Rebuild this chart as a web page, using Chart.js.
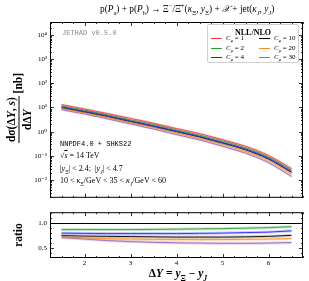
<!DOCTYPE html>
<html><head><meta charset="utf-8">
<script src="https://cdn.jsdelivr.net/npm/chart.js@4.4.1/dist/chart.umd.min.js"></script>
<style>
html,body{margin:0;padding:0;background:#fff;}
#wrap{position:relative;width:309px;height:281px;overflow:hidden;font-family:'Liberation Serif','DejaVu Serif',serif;color:#000;}
canvas{position:absolute;left:0;}
.t{position:absolute;white-space:nowrap;line-height:1;}
sub,sup{font-size:68%;line-height:0;}
.mono{font-family:'Liberation Mono','DejaVu Sans Mono',monospace;}
#legend{position:absolute;left:207px;top:24px;width:92px;height:39px;border:1px solid #d0d0d0;border-radius:2px;background:rgba(255,255,255,0.85);box-sizing:border-box;}
#legend .ln{position:absolute;height:1px;width:11px;}
#legend .lt{position:absolute;font-size:7px;white-space:nowrap;line-height:1;}
</style></head><body>
<div id="wrap">
<canvas id="main" width="309" height="205" style="top:0"></canvas>
<canvas id="ratio" width="309" height="76" style="top:205px"></canvas>

<div class="t" style="left:100px;top:5px;font-size:9.3px;">p(<i>P</i><sub>a</sub>) + p(<i>P</i><sub>b</sub>) → Ξ<sup>−</sup>/Ξ̄<sup>+</sup>(<i>κ</i><sub>Ξ</sub>, <i>y</i><sub>Ξ</sub>) + <i>𝒳</i> + jet(<i>κ</i><sub><i>J</i></sub>, <i>y</i><sub><i>J</i></sub>)</div>

<div class="t mono" style="left:62px;top:30px;font-size:7px;color:#8a8a8a;">JETHAD v0.5.0</div>
<div class="t mono" style="left:60px;top:141px;font-size:7px;">NNPDF4.0 + SHKS22</div>
<div class="t" style="left:60px;top:152px;font-size:8px;">√<span style="text-decoration:overline"><i>s</i></span> = 14 TeV</div>
<div class="t" style="left:60px;top:165px;font-size:8px;">|<i>y</i><sub>Ξ</sub>| &lt; 2.4;&nbsp; |<i>y</i><sub><i>J</i></sub>| &lt; 4.7</div>
<div class="t" style="left:60px;top:177px;font-size:8px;">10 &lt; <i>κ</i><sub>Ξ</sub>/GeV &lt; 35 &lt; <i>κ</i><sub><i>J</i></sub>/GeV &lt; 60</div>

<div id="legend"></div>

<div class="t" style="left:19px;top:108px;transform:translate(-50%,-50%) rotate(-90deg);font-size:11.5px;font-weight:bold;">
 <span style="display:inline-block;vertical-align:middle;text-align:center;">
  <span style="display:block;border-bottom:1px solid #000;padding:0 1px 1px;">dσ(Δ<i>Y</i>, <i>s</i>)</span>
  <span style="display:block;padding-top:2px;">dΔ<i>Y</i></span>
 </span>
 <span style="vertical-align:middle;">[nb]</span>
</div>
<div class="t" style="left:19px;top:235px;transform:translate(-50%,-50%) rotate(-90deg);font-size:11.5px;font-weight:bold;">ratio</div>
<div class="t" style="left:178px;top:274px;transform:translate(-50%,-50%);font-size:11.5px;font-weight:bold;">Δ<i>Y</i> = <i>y</i><sub>Ξ</sub> − <i>y</i><sub><i>J</i></sub></div>
</div>

<script>
// ---------------- data ----------------
const deltaY = [1.5, 2.0, 2.5, 3.0, 3.5, 4.0, 4.5, 5.0, 5.5, 6.0, 6.5];
const scaleNames = ['1', '2', '4', '10', '20', '30'];
const sigmaC1  = [13.2, 8.71, 5.62, 3.55, 2.24, 1.35, 0.832, 0.468, 0.251, 0.105, 0.0302];
const sigmaC2  = [11.7, 7.76, 5.01, 3.09, 2.00, 1.20, 0.724, 0.417, 0.219, 0.0912, 0.0263];
const sigmaC4  = [10.7, 7.08, 4.57, 2.82, 1.78, 1.07, 0.646, 0.363, 0.195, 0.0813, 0.0229];
const sigmaC10 = [10.0, 6.61, 4.27, 2.63, 1.66, 1.00, 0.603, 0.339, 0.178, 0.0741, 0.0209];
const sigmaC20 = [9.12, 6.03, 3.80, 2.34, 1.48, 0.871, 0.525, 0.295, 0.151, 0.0631, 0.0174];
const sigmaC30 = [8.13, 5.37, 3.39, 2.09, 1.29, 0.759, 0.457, 0.251, 0.129, 0.0525, 0.0141];
const ratioC2  = [0.87, 0.87, 0.87, 0.87, 0.875, 0.88, 0.885, 0.89, 0.90, 0.91, 0.93];
const ratioC4  = [0.80, 0.795, 0.79, 0.79, 0.79, 0.79, 0.795, 0.80, 0.81, 0.82, 0.845];
const ratioC10 = [0.75, 0.74, 0.735, 0.73, 0.725, 0.72, 0.72, 0.72, 0.725, 0.735, 0.755];
const ratioC20 = [0.72, 0.705, 0.69, 0.68, 0.675, 0.67, 0.67, 0.67, 0.675, 0.68, 0.69];
const ratioC30 = [0.71, 0.68, 0.65, 0.63, 0.615, 0.605, 0.60, 0.595, 0.595, 0.60, 0.61];
const xTickValues = [2, 3, 4, 5, 6];
const xTickLabels = ['2', '3', '4', '5', '6'];
const yTickValues = [1e-2, 1e-1, 1e0, 1e1, 1e2, 1e3, 1e4];
const yTickLabels = ['10⁻²', '10⁻¹', '10⁰', '10¹', '10²', '10³', '10⁴'];
const rTickValues = [0.5, 1.0];
const rTickLabels = ['0.5', '1.0'];

// ---------------- styles ----------------
const colors = ['#ff2a2a', '#2a9a2a', '#1a1aff', '#000000', '#ff8c1a', '#9467bd'];
const bandColors = ['rgba(255,90,90,0.28)', 'rgba(70,170,70,0.28)', 'rgba(70,70,255,0.28)', 'rgba(0,0,0,0.18)', 'rgba(255,150,40,0.28)', 'rgba(150,100,200,0.28)'];
const FONT = "'Liberation Serif','DejaVu Serif',serif";

const sigmaSeries = [sigmaC1, sigmaC2, sigmaC4, sigmaC10, sigmaC20, sigmaC30];
const ratioSeries = [null, ratioC2, ratioC4, ratioC10, ratioC20, ratioC30];

function pts(arr) { return deltaY.map((x, i) => ({x: x, y: arr[i]})); }
function makeDatasets(series, bw) {
  const bands = [], lines = [];
  series.forEach((s, i) => {
    if (!s) return;
    bands.push({data: pts(s), borderColor: bandColors[i], borderWidth: bw, pointRadius: 0, cubicInterpolationMode: 'monotone', fill: false});
    lines.push({data: pts(s), borderColor: colors[i], borderWidth: 0.9, pointRadius: 0, cubicInterpolationMode: 'monotone', fill: false});
  });
  return bands.concat(lines);
}

// legend
(function(){
  const lg = document.getElementById('legend');
  let h = '<div class="lt" style="left:0;width:100%;text-align:center;top:3.5px;font-size:8px;font-weight:bold;">NLL/NLO</div>';
  const rows = [13.5, 23, 32];
  scaleNames.forEach((n, i) => {
    const col = i < 3 ? 0 : 1, row = i % 3;
    const lx = col ? 51 : 3, tx = col ? 66 : 18;
    h += '<div class="ln" style="left:' + lx + 'px;top:' + (rows[row] - 0.5) + 'px;background:' + colors[i] + '"></div>';
    h += '<div class="lt" style="left:' + tx + 'px;top:' + (rows[row] - 3.5) + 'px;"><i>C</i><sub><i>μ</i></sub> = ' + n + '</div>';
  });
  lg.innerHTML = h;
})();

// frame with inward ticks
function makeFrame(xMajor, xMinor, yMajor, yMinor, refLine) {
  return {
    id: 'frame',
    beforeDatasetsDraw(chart) {
      if (refLine === undefined) return;
      const {ctx, chartArea: a, scales} = chart;
      const p = Math.round(scales.y.getPixelForValue(refLine)) + 0.5;
      ctx.save(); ctx.strokeStyle = '#000'; ctx.lineWidth = 1;
      ctx.beginPath(); ctx.moveTo(a.left, p); ctx.lineTo(a.right, p); ctx.stroke(); ctx.restore();
    },
    afterDatasetsDraw(chart) {
      const {ctx, chartArea: a, scales} = chart;
      const xs = scales.x, ys = scales.y;
      ctx.save(); ctx.strokeStyle = '#000'; ctx.lineWidth = 0.8;
      ctx.beginPath();
      const xt = (v, L) => { const p = Math.round(xs.getPixelForValue(v)) + 0.5; ctx.moveTo(p, a.bottom); ctx.lineTo(p, a.bottom - L); ctx.moveTo(p, a.top); ctx.lineTo(p, a.top + L); };
      const yt = (v, L) => { const p = Math.round(ys.getPixelForValue(v)) + 0.5; if (p < a.top || p > a.bottom) return; ctx.moveTo(a.left, p); ctx.lineTo(a.left + L, p); ctx.moveTo(a.right, p); ctx.lineTo(a.right - L, p); };
      xMajor.forEach(v => xt(v, 4)); xMinor.forEach(v => xt(v, 2));
      yMajor.forEach(v => yt(v, 4)); yMinor.forEach(v => yt(v, 2));
      ctx.stroke();
      ctx.lineWidth = 1;
      ctx.strokeRect(a.left + 0.5, a.top + 0.5, a.right - a.left - 1, a.bottom - a.top - 1);
      ctx.restore();
    }
  };
}
const xMinor = [];
for (let k = 5; k <= 27; k++) { const v = k * 0.25; if (v % 1 !== 0) xMinor.push(v); }
const logMinor = [];
for (let e = -3; e <= 4; e++) for (let m = 2; m <= 9; m++) logMinor.push(m * Math.pow(10, e));
const rMinor = [0.4, 0.6, 0.7, 0.8, 0.9, 1.1, 1.2];

Chart.defaults.font.family = FONT;
Chart.defaults.color = '#000';

new Chart(document.getElementById('main'), {
  type: 'line',
  data: {datasets: makeDatasets(sigmaSeries, 2.2)},
  options: {
    responsive: false, animation: false, events: [],
    layout: {padding: {top: 22, right: 6, left: 0, bottom: 5}},
    plugins: {legend: {display: false}, tooltip: {enabled: false}},
    scales: {
      x: {type: 'linear', min: 1.25, max: 6.75, display: false},
      y: {type: 'logarithmic', min: Math.pow(10, -2.73), max: Math.pow(10, 4.53),
          afterFit(s) { s.width = 50; },
          afterBuildTicks(s) { s.ticks = yTickValues.map(v => ({value: v})); },
          ticks: {callback: (v, i) => yTickLabels[i], font: {size: 7, family: FONT}, color: '#000', padding: 3, autoSkip: false},
          grid: {display: false, drawTicks: false}, border: {display: false}}
    }
  },
  plugins: [makeFrame(xTickValues, xMinor, yTickValues, logMinor)]
});

new Chart(document.getElementById('ratio'), {
  type: 'line',
  data: {datasets: makeDatasets(ratioSeries, 3)},
  options: {
    responsive: false, animation: false, events: [],
    layout: {padding: {top: 7, right: 6, left: 0, bottom: 0}},
    plugins: {legend: {display: false}, tooltip: {enabled: false}},
    scales: {
      x: {type: 'linear', min: 1.25, max: 6.75,
          afterFit(s) { s.height = 23; },
          afterBuildTicks(s) { s.ticks = xTickValues.map(v => ({value: v})); },
          ticks: {callback: (v, i) => xTickLabels[i], font: {size: 7, family: FONT}, color: '#000', padding: 1, autoSkip: false, maxRotation: 0},
          grid: {display: false, drawTicks: false}, border: {display: false}},
      y: {type: 'linear', min: 0.3, max: 1.22,
          afterFit(s) { s.width = 50; },
          afterBuildTicks(s) { s.ticks = rTickValues.map(v => ({value: v})); },
          ticks: {callback: (v, i) => rTickLabels[i], font: {size: 7, family: FONT}, color: '#000', padding: 3, autoSkip: false},
          grid: {display: false, drawTicks: false}, border: {display: false}}
    }
  },
  plugins: [makeFrame(xTickValues, xMinor, rTickValues, rMinor, 1.0)]
});
</script>
</body></html>
